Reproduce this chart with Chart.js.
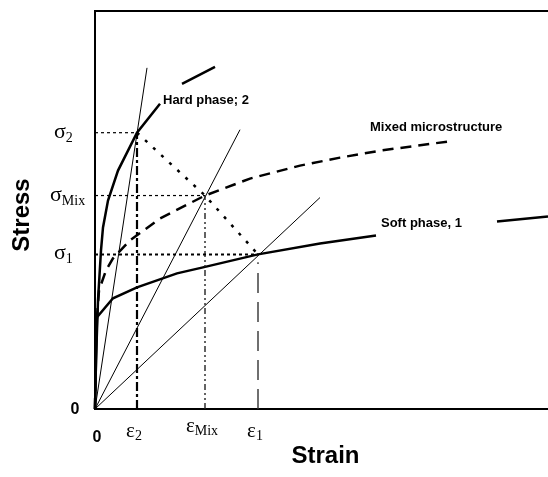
<!DOCTYPE html>
<html>
<head>
<meta charset="utf-8">
<script src="https://cdn.jsdelivr.net/npm/chart.js@4"></script>
<style>
  html, body { margin: 0; padding: 0; background: #fff; }
  #wrap { width: 548px; height: 477px; }
</style>
</head>
<body>
<div id="wrap"><canvas id="chart"></canvas></div>
<script>
// strain (x) vs stress (y), arbitrary units, origin bottom-left
const hardPhase = [[0, 0], [1, 49], [3, 109], [6, 159], [8, 182], [13, 209], [23, 239], [42, 277], [65, 306], [76, null], [87, 326], [120, 343]];
const softPhase = [[0, 0], [1, 49], [2, 92], [18, 111], [42, 122], [82, 136], [108, 142], [163, 155], [225, 166], [281, 174], [340, null], [402, 188], [453, 193]];
const mixedPhase = [[0, 0], [1, 79], [4, 119], [11, 139], [18, 151], [35, 169], [65, 191], [110, 214], [155, 231], [205, 244], [245, 252], [285, 259], [352, 268]];

// secant lines from the origin through each working point
const secantEnds = [[52, 342], [145, 280], [225, 212]];

// working points: 2 = hard, Mix = mixed, 1 = soft
const markSub = ['2', 'Mix', '1'];
const markStrain = [42, 110, 163];
const markStress = [277, 214, 155];

const curveNames = ['Hard phase; 2', 'Mixed microstructure', 'Soft phase, 1'];

const SANS = '"Liberation Sans", Arial, sans-serif';
const SERIF = '"Liberation Serif", "Times New Roman", serif';

function line(data, style) {
  return Object.assign({
    data,
    borderColor: '#000',
    borderWidth: 1,
    pointRadius: 0,
    showLine: true,
    spanGaps: false,
    clip: false,
  }, style);
}

const datasets = [];

// guides to the axes
markStrain.forEach((sx, i) => {
  const sy = markStress[i];
  datasets.push(line([[0, sy], [sx, sy]], {
    borderWidth: i === 2 ? 2 : 1.2,
    borderDash: [3, 3],
  }));
});
datasets.push(line([[markStrain[0], 0], [markStrain[0], markStress[0]]], {
  borderWidth: 2.2, borderDash: [9, 3, 3, 3],
}));
datasets.push(line([[markStrain[1], 0], [markStrain[1], markStress[1]]], {
  borderWidth: 1.4, borderColor: '#222', borderDash: [6, 3, 2, 3, 2, 3],
}));
datasets.push(line([[markStrain[2], 0], [markStrain[2], markStress[2] - 8]], {
  borderWidth: 1.4, borderColor: '#333', borderDash: [20, 9],
}));

// iso-work line through the three working points
datasets.push(line(markStrain.map((sx, i) => [sx, markStress[i]]), {
  borderWidth: 2.5, borderDash: [3, 8],
}));

secantEnds.forEach((p) => datasets.push(line([[0, 0], p], { borderWidth: 1 })));

datasets.push(line(hardPhase, { borderWidth: 2.5 }));
datasets.push(line(softPhase, { borderWidth: 2.5 }));
datasets.push(line(mixedPhase, { borderWidth: 2.5, borderDash: [11, 7] }));

function subText(ctx, main, sub, x, y, mainFont, subFont, subDrop, align) {
  ctx.font = mainFont;
  const w1 = ctx.measureText(main).width;
  ctx.font = subFont;
  const w2 = ctx.measureText(sub).width;
  let left = x;
  if (align === 'center') left = x - (w1 + w2) / 2;
  ctx.textAlign = 'left';
  ctx.font = mainFont;
  ctx.fillText(main, left, y);
  ctx.font = subFont;
  ctx.fillText(sub, left + w1, y + subDrop);
}

const textLayer = {
  id: 'textLayer',
  afterDatasetsDraw(chart, args, opts) {
    const { ctx, scales: { x, y } } = chart;
    ctx.save();
    ctx.fillStyle = '#000';
    ctx.textBaseline = 'alphabetic';

    // curve names
    ctx.font = 'bold 13px ' + SANS;
    ctx.textAlign = 'left';
    curveNames.forEach((name, i) => {
      const a = opts.nameAt[i];
      ctx.fillText(name, x.getPixelForValue(a[0]), y.getPixelForValue(a[1]) + 5);
    });

    // stress marks on the y axis
    markSub.forEach((s, i) => {
      const py = y.getPixelForValue(markStress[i]);
      const left = s === 'Mix' ? x.left - 45 : x.left - 41;
      subText(ctx, 'σ', s, left, py + 5, '22px ' + SERIF, '14px ' + SERIF, 4, 'left');
    });

    // strain marks under the x axis
    markSub.forEach((s, i) => {
      const px = x.getPixelForValue(markStrain[i]);
      const base = s === 'Mix' ? 432 : 437;
      subText(ctx, 'ε', s, px - 3, base, '21px ' + SERIF, '14px ' + SERIF, 3, 'center');
    });

    // zeros
    ctx.font = 'bold 16px ' + SANS;
    ctx.textAlign = 'center';
    ctx.textBaseline = 'middle';
    ctx.fillText('0', x.left + 2, y.bottom + 29);
    ctx.fillText('0', x.left - 20, y.bottom + 1);

    // axis titles
    ctx.font = 'bold 24px ' + SANS;
    ctx.fillText('Strain', (x.left + x.right) / 2 + 4, y.bottom + 47);
    ctx.translate(22, (y.top + y.bottom) / 2 + 5);
    ctx.rotate(-Math.PI / 2);
    ctx.fillText('Stress', 0, 0);
    ctx.restore();
  },
};

const hidden = { grid: { display: false }, ticks: { display: false } };

new Chart(document.getElementById('chart'), {
  type: 'scatter',
  data: { datasets },
  options: {
    responsive: true,
    maintainAspectRatio: false,
    animation: false,
    layout: { padding: { left: 87, top: 3, right: 0, bottom: 60 } },
    plugins: {
      legend: { display: false },
      tooltip: { enabled: false },
      textLayer: {
        nameAt: [[68, 311], [275, 284], [286, 187]],
      },
    },
    scales: {
      x: { type: 'linear', min: 0, max: 453, ...hidden, border: { color: '#000', width: 2 } },
      y: { type: 'linear', min: 0, max: 399, ...hidden, border: { color: '#000', width: 2 } },
      xTop: { type: 'linear', axis: 'x', position: 'top', min: 0, max: 453, ...hidden, border: { color: '#000', width: 2 } },
    },
  },
  plugins: [textLayer],
});
</script>
</body>
</html>
